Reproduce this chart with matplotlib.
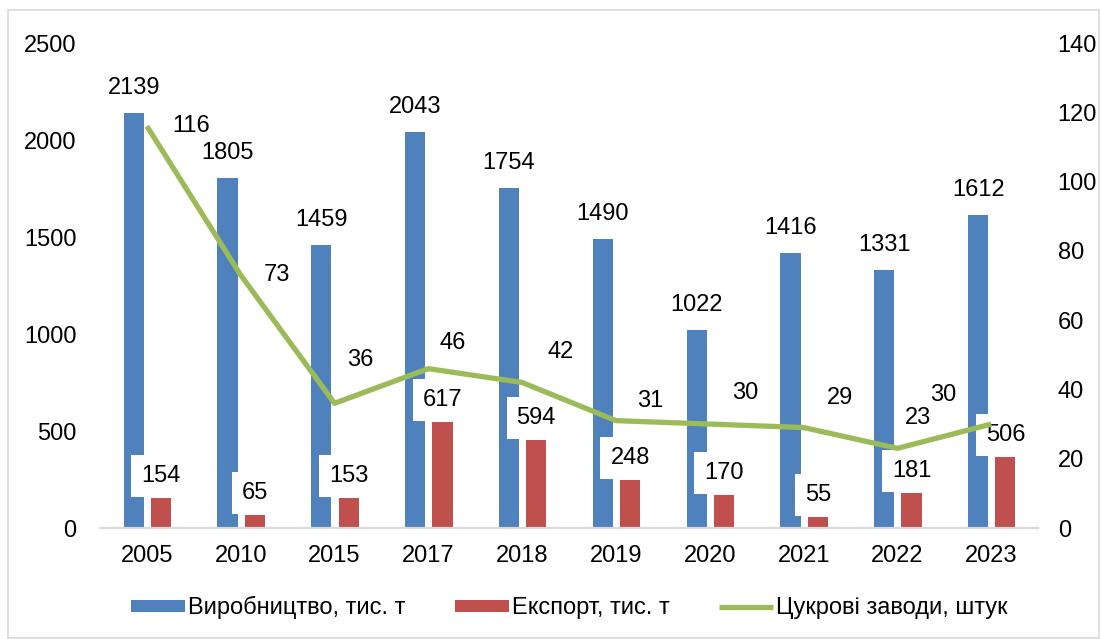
import matplotlib.pyplot as plt
from matplotlib.patches import Rectangle
import numpy as np

years = ["2005", "2010", "2015", "2017", "2018", "2019", "2020", "2021", "2022", "2023"]
production = [2139, 1805, 1459, 2043, 1754, 1490, 1022, 1416, 1331, 1612]
# export bars as drawn in the source picture, and the labels printed on them
export_heights = [154, 65, 153, 546, 453, 248, 170, 55, 181, 366]
export_labels = [154, 65, 153, 617, 594, 248, 170, 55, 181, 506]
factories = [116, 73, 36, 46, 42, 31, 30, 29, 23, 30]

# label offsets for the line values, in pixels (dx, dy)
factory_label_offsets = [(44, 0), (36, 0), (26, 43), (24, 26), (38, 31),
                         (34, 20), (35, 31), (36, 30), (20, 30), (-48, 29)]

BLUE = "#4F81BD"
RED = "#C0504D"
GREEN = "#9BBB59"

plt.rcParams["font.family"] = ["Liberation Sans", "DejaVu Sans"]
plt.rcParams["font.size"] = 17

fig = plt.figure(figsize=(11.01, 6.39), dpi=100)
ax = fig.add_axes([0.0908, 0.1737, 0.943 - 0.0908, 0.9327 - 0.1737])
ax2 = ax.twinx()

x = np.arange(len(years))
w = 0.215
b1 = ax.bar(x - 0.14, production, w, color=BLUE, label="Виробництво, тис. т", zorder=2)
b2 = ax.bar(x + 0.15, export_heights, w, color=RED, label="Експорт, тис. т", zorder=2)

for xi, h in zip(x, production):
    ax.annotate(str(h), (xi - 0.14, h), xytext=(0, 25), textcoords="offset pixels",
                ha="center", va="center", zorder=5)

for xi, h, lab in zip(x, export_heights, export_labels):
    ax.annotate(str(lab), (xi + 0.15, h), xytext=(0, 22), textcoords="offset pixels",
                ha="center", va="center", zorder=5,
                bbox=dict(boxstyle="square,pad=0.42", fc="white", ec="none"))

ln, = ax2.plot(x, factories, color=GREEN, lw=3.8, label="Цукрові заводи, штук",
               solid_capstyle="butt", zorder=3)
for xi, v, (dx, dy) in zip(x, factories, factory_label_offsets):
    ax2.annotate(str(v), (xi, v), xytext=(dx, dy), textcoords="offset pixels",
                 ha="center", va="center")

ax.set_xlim(-0.5, 9.5)
ax.set_ylim(0, 2500)
ax.set_yticks(range(0, 2501, 500))
ax2.set_ylim(0, 140)
ax2.set_yticks(range(0, 141, 20))
ax.set_xticks(x)
ax.set_xticklabels(years)

for a in (ax, ax2):
    for s in ("top", "left", "right"):
        a.spines[s].set_visible(False)
    a.spines["bottom"].set_color("#D9D9D9")
    a.spines["bottom"].set_linewidth(1.5)
ax.tick_params(axis="y", length=0, pad=17)
ax2.tick_params(axis="y", length=0, pad=14)
ax.tick_params(axis="x", length=0, pad=12)

fig.legend(handles=[b1, b2, ln], loc="center", bbox_to_anchor=(0.517, 0.049),
           ncol=3, frameon=False, handlelength=2.3, handleheight=0.45,
           handletextpad=0.12, columnspacing=2.1)

fig.patches.append(Rectangle((0.007, 0.002), 0.991, 0.982, transform=fig.transFigure,
                             fill=False, ec="#D9D9D9", lw=1.2))

fig.savefig("out.png", dpi=100)
